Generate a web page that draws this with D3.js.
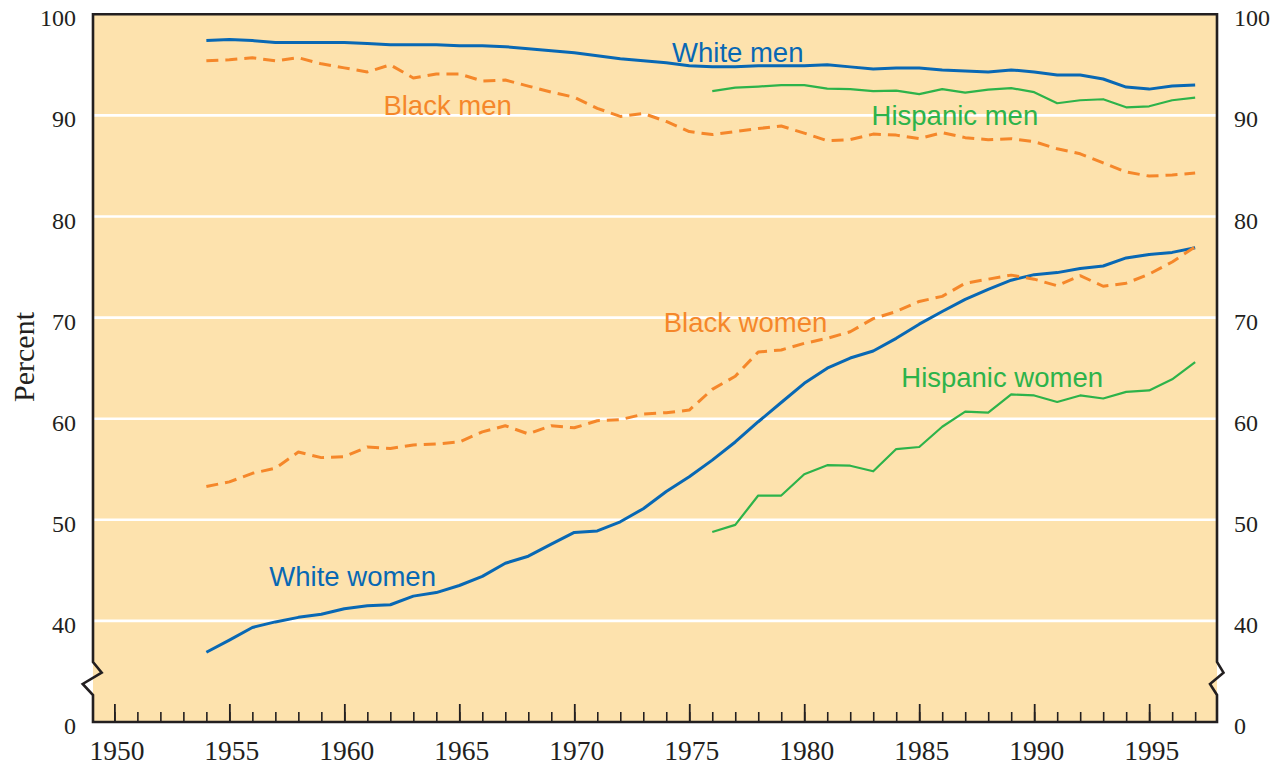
<!DOCTYPE html>
<html>
<head>
<meta charset="utf-8">
<script src="https://cdn.jsdelivr.net/npm/d3@7"></script>
<style>
  html, body { margin: 0; padding: 0; background: #ffffff; }
  svg { display: block; }
</style>
</head>
<body>
<svg id="chart" width="1274" height="765"></svg>
<script>
// ---------------- DATA ----------------
const years = d3.range(1954, 1998);          // 1954 .. 1997
const hispYears = d3.range(1976, 1998);      // 1976 .. 1997

const whiteMen = [97.4, 97.5, 97.4, 97.2, 97.2, 97.2, 97.2, 97.1, 97.0, 97.0, 97.0, 96.9, 96.9, 96.8,
  96.6, 96.4, 96.2, 95.9, 95.6, 95.4, 95.2, 94.9, 94.8, 94.8, 94.9, 94.9, 94.9, 95.0, 94.8, 94.6,
  94.7, 94.7, 94.5, 94.4, 94.3, 94.5, 94.3, 94.0, 94.0, 93.6, 92.8, 92.6, 92.9, 93.0];

const blackMen = [95.4, 95.5, 95.7, 95.4, 95.7, 95.1, 94.7, 94.3, 95.0, 93.7, 94.1, 94.1, 93.4, 93.5,
  92.9, 92.3, 91.8, 90.7, 89.9, 90.2, 89.4, 88.4, 88.1, 88.4, 88.7, 88.95, 88.25, 87.5, 87.6, 88.15,
  88.05, 87.7, 88.3, 87.8, 87.6, 87.7, 87.4, 86.7, 86.2, 85.3, 84.4, 84.0, 84.1, 84.3];

const hispanicMen = [92.4, 92.75, 92.85, 93.0, 93.0, 92.65, 92.6, 92.4, 92.45, 92.1, 92.6, 92.25,
  92.55, 92.7, 92.3, 91.2, 91.5, 91.6, 90.8, 90.9, 91.5, 91.75];

const whiteWomen = [36.9, 38.1, 39.35, 39.9, 40.35, 40.65, 41.2, 41.5, 41.6, 42.45, 42.8, 43.5, 44.4,
  45.7, 46.4, 47.6, 48.75, 48.9, 49.8, 51.1, 52.8, 54.25, 55.9, 57.7, 59.7, 61.6, 63.5, 65.0, 66.0,
  66.7, 67.95, 69.35, 70.6, 71.8, 72.8, 73.7, 74.25, 74.45, 74.85, 75.1, 75.9, 76.25, 76.45, 76.9];

const blackWomen = [53.3, 53.75, 54.6, 55.1, 56.7, 56.15, 56.25, 57.2, 57.05, 57.4, 57.5, 57.7, 58.7,
  59.3, 58.5, 59.3, 59.1, 59.8, 59.9, 60.45, 60.6, 60.85, 62.9, 64.2, 66.6, 66.8, 67.45, 67.95, 68.6,
  69.9, 70.6, 71.6, 72.1, 73.4, 73.8, 74.2, 73.8, 73.15, 74.15, 73.1, 73.4, 74.3, 75.5, 77.0];

const hispanicWomen = [48.8, 49.5, 52.4, 52.4, 54.5, 55.4, 55.35, 54.8, 57.0, 57.2, 59.2, 60.7, 60.6,
  62.4, 62.3, 61.65, 62.3, 62.0, 62.65, 62.8, 63.9, 65.6];

// y-axis: the bottom position (30) is the axis break, labelled "0"
const yTickValues = [30, 40, 50, 60, 70, 80, 90, 100];
const yTickLabels = ["0", "40", "50", "60", "70", "80", "90", "100"];
const gridValues = [40, 50, 60, 70, 80, 90];
const xMajorTicks = [1950, 1955, 1960, 1965, 1970, 1975, 1980, 1985, 1990, 1995];
const xMinorTicks = d3.range(1950, 1998);

const seriesLabels = [
  { text: "White men", color: "#0868b4", year: 1974.25, value: 95.31 },
  { text: "Black men", color: "#f5872a", year: 1961.7, value: 90.04 },
  { text: "Hispanic men", color: "#2db34a", year: 1982.93, value: 89.05 },
  { text: "Black women", color: "#f5872a", year: 1973.89, value: 68.62 },
  { text: "Hispanic women", color: "#2db34a", year: 1984.22, value: 63.1 },
  { text: "White women", color: "#0868b4", year: 1956.74, value: 43.47 }
];

// ---------------- LAYOUT ----------------
const L = 93, R = 1217, T = 14.3, B = 722;
const svg = d3.select("#chart");

const x = d3.scaleLinear().domain([1949.07, 1997.95]).range([L, R]);
const y = d3.scaleLinear().domain([30, 100]).range([B, T]);

const bg = "#fde2ad";
const ink = "#231f20";
const serif = "'Liberation Serif', 'Times New Roman', serif";
const sans = "'Liberation Sans', Arial, Helvetica, sans-serif";

// plot background
svg.append("rect").attr("x", L).attr("y", T).attr("width", R - L).attr("height", B - T).attr("fill", bg);

// gridlines
svg.append("g").selectAll("line").data(gridValues).join("line")
  .attr("x1", L).attr("x2", R)
  .attr("y1", d => y(d)).attr("y2", d => y(d))
  .attr("stroke", "#ffffff").attr("stroke-width", 2.6);

// x ticks (inward)
const minorAxis = d3.axisBottom(x).tickValues(xMinorTicks).tickSize(-10).tickFormat("");
const gMinor = svg.append("g").attr("transform", `translate(0,${B})`).call(minorAxis);
gMinor.select(".domain").remove();
gMinor.selectAll("line").attr("stroke", ink).attr("stroke-width", 1.6);

const majorAxis = d3.axisBottom(x).tickValues(xMajorTicks).tickSize(-18).tickFormat(d3.format("d"));
const gMajor = svg.append("g").attr("transform", `translate(0,${B})`).call(majorAxis);
gMajor.select(".domain").remove();
gMajor.selectAll("line").attr("stroke", ink).attr("stroke-width", 1.8);
gMajor.selectAll("text")
  .attr("y", 38).attr("dy", 0).attr("dx", 2)
  .attr("fill", ink).style("font-family", serif).style("font-size", "27.5px");

// y labels (left and right)
const yLeft = d3.axisLeft(y).tickValues(yTickValues).tickSize(0)
  .tickFormat((d, i) => yTickLabels[i]);
const gyl = svg.append("g").attr("transform", `translate(${L},0)`).call(yLeft);
gyl.select(".domain").remove();
gyl.selectAll("text").attr("x", -17).attr("dy", 11.5)
  .attr("fill", ink).style("font-family", serif).style("font-size", "24px");

const yRight = d3.axisRight(y).tickValues(yTickValues).tickSize(0)
  .tickFormat((d, i) => yTickLabels[i]);
const gyr = svg.append("g").attr("transform", `translate(${R},0)`).call(yRight);
gyr.select(".domain").remove();
gyr.selectAll("text").attr("x", 17).attr("dy", 11.5)
  .attr("fill", ink).style("font-family", serif).style("font-size", "24px");

// frame with axis breaks
const b1 = B - 60, b2 = B - 49.3, b3 = B - 38, b4 = B - 27;
const leftEdge = `M${L},${B} L${L},${b4} L${L - 10.3},${b3} L${L + 8.7},${b2} L${L},${b1} L${L},${T}`;
const rightEdge = `M${R},${T} L${R},${b1} L${R + 6.5},${b2} L${R - 7},${b3} L${R},${b4} L${R},${B}`;
svg.append("path")
  .attr("d", leftEdge + ` L${R},${T} ` + rightEdge.slice(rightEdge.indexOf("L")) + ` L${L},${B} Z`)
  .attr("fill", "none").attr("stroke", ink).attr("stroke-width", 2.6).attr("stroke-linejoin", "miter");

// lines
const line = d3.line().x(d => x(d[0])).y(d => y(d[1]));
const pairs = (xs, vs) => xs.map((yr, i) => [yr, vs[i]]);

const series = [
  { data: pairs(hispYears, hispanicMen), color: "#2db34a", width: 2.2, dash: null },
  { data: pairs(hispYears, hispanicWomen), color: "#2db34a", width: 2.2, dash: null },
  { data: pairs(years, whiteWomen), color: "#0868b4", width: 3, dash: null },
  { data: pairs(years, whiteMen), color: "#0868b4", width: 3, dash: null },
  { data: pairs(years, blackMen), color: "#f5872a", width: 3, dash: "12,7" },
  { data: pairs(years, blackWomen), color: "#f5872a", width: 3, dash: "12,7" }
];

svg.append("g").selectAll("path").data(series).join("path")
  .attr("d", d => line(d.data))
  .attr("fill", "none")
  .attr("stroke", d => d.color)
  .attr("stroke-width", d => d.width)
  .attr("stroke-dasharray", d => d.dash)
  .attr("stroke-linejoin", "round");

// series labels
svg.append("g").selectAll("text").data(seriesLabels).join("text")
  .attr("x", d => x(d.year)).attr("y", d => y(d.value))
  .attr("fill", d => d.color)
  .style("font-family", sans).style("font-size", "27.5px")
  .text(d => d.text);

// y axis title
svg.append("text")
  .attr("transform", "translate(34,357) rotate(-90)")
  .attr("text-anchor", "middle")
  .attr("fill", ink)
  .style("font-family", serif).style("font-size", "30px")
  .text("Percent");
</script>
</body>
</html>
